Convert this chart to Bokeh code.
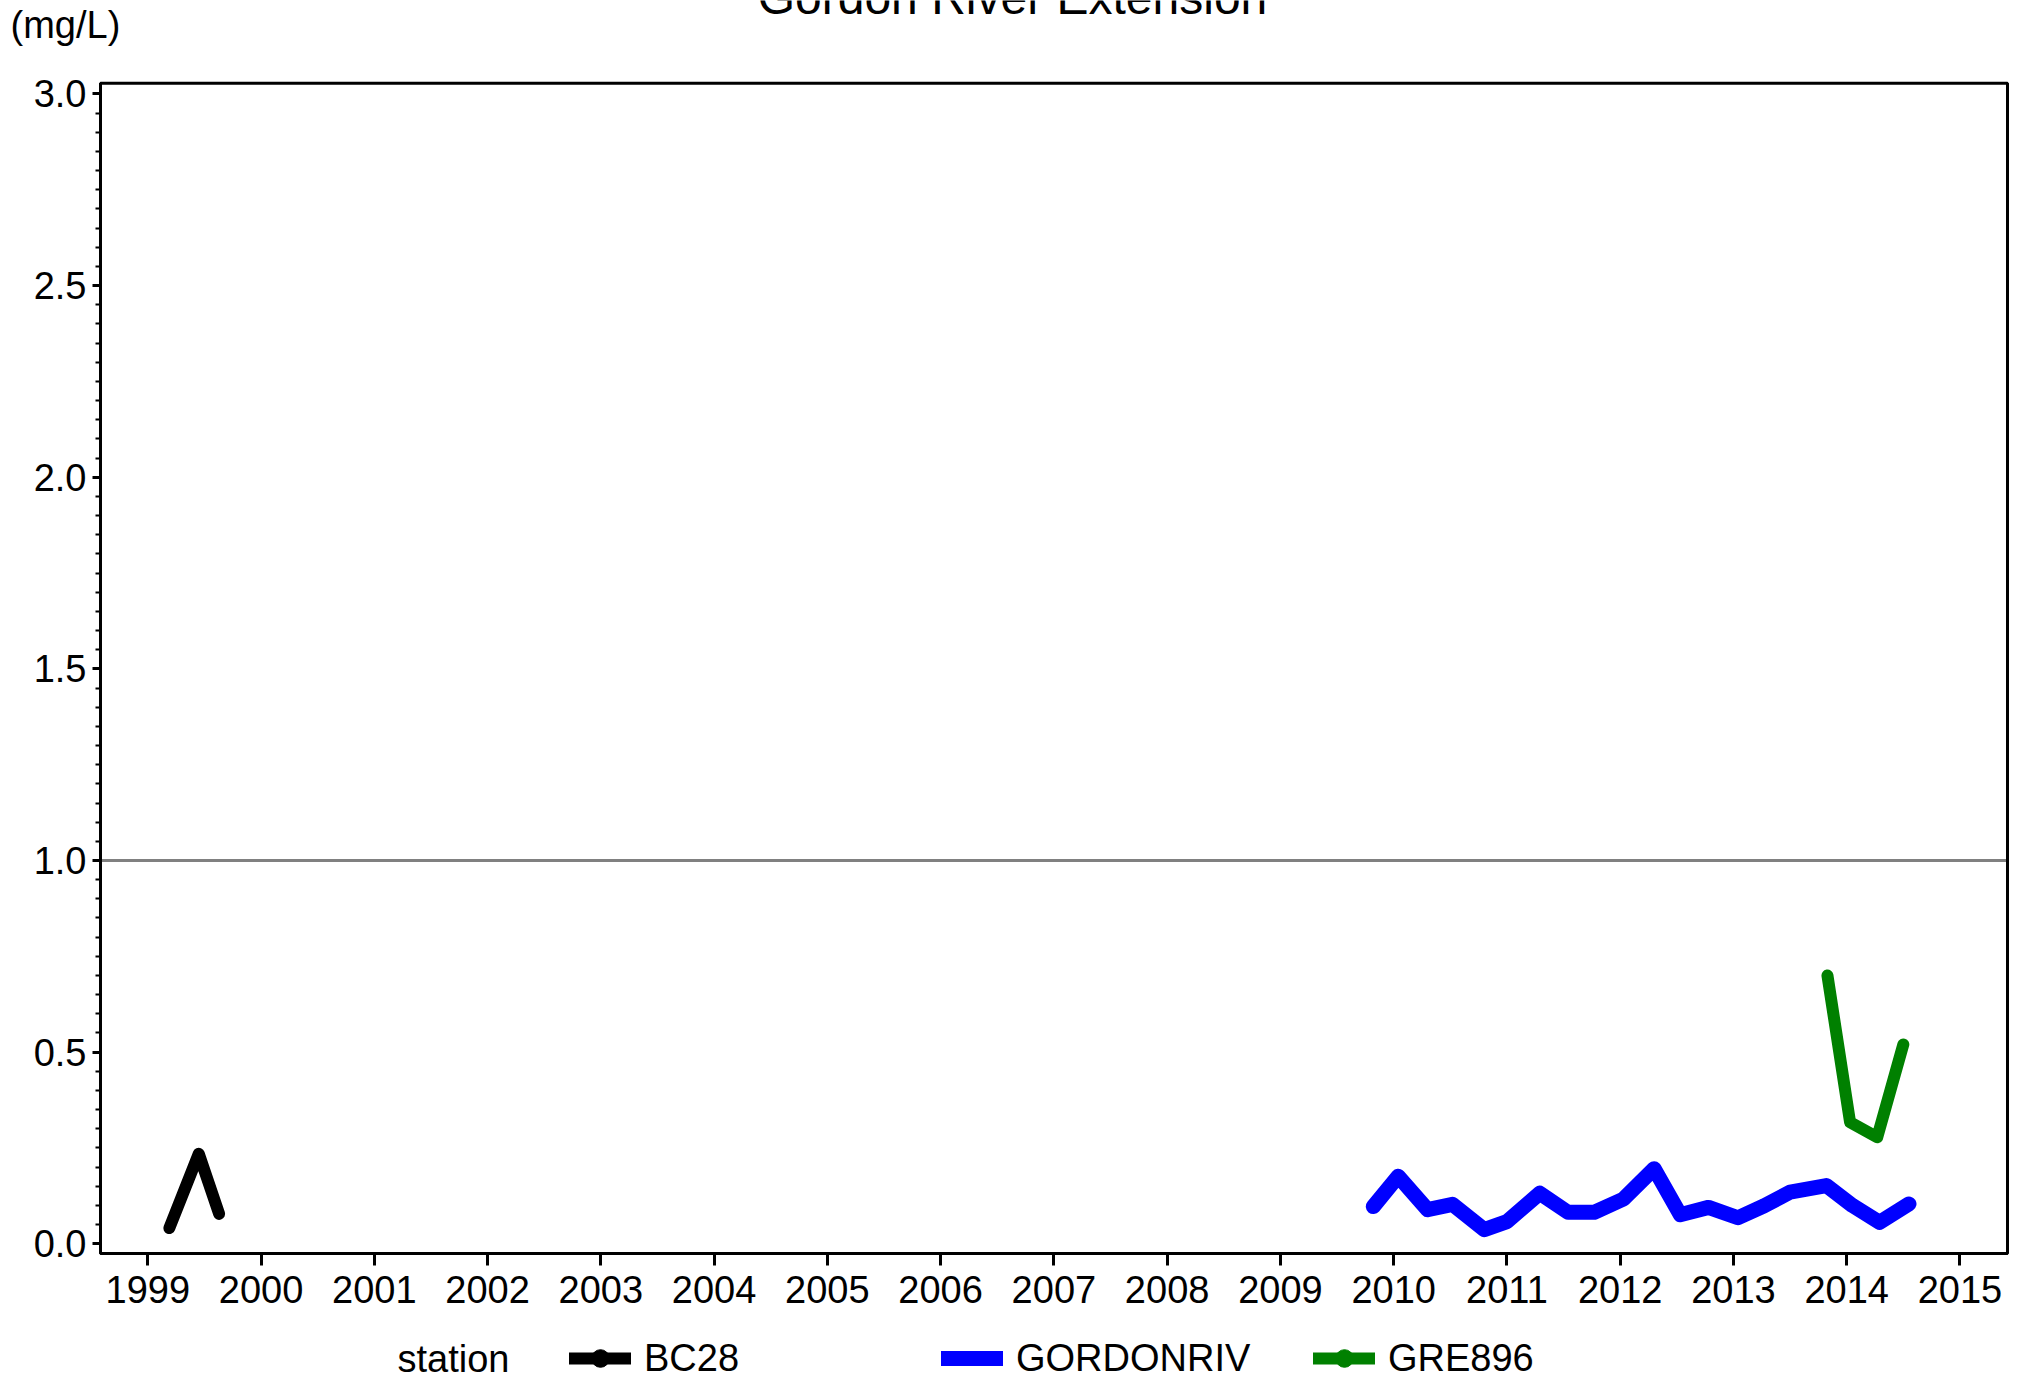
from bokeh.plotting import figure
from bokeh.models import (Range1d, FixedTicker, Label, Legend, LegendItem,
                          PrintfTickFormatter, BoxAnnotation)
from bokeh.embed import file_html
from bokeh.resources import INLINE

FONT = "Liberation Sans"

title_text = "Gordon River Extension"
unit_text = "(mg/L)"
legend_title = "station"

station_names = ["BC28", "GORDONRIV", "GRE896"]

bc28_year = [1999.19, 1999.45, 1999.63]
bc28_val = [0.041, 0.235, 0.078]

gordon_year = [2009.82, 2010.04, 2010.30, 2010.52, 2010.80, 2011.00, 2011.29,
               2011.54, 2011.77, 2012.03, 2012.30, 2012.53, 2012.78, 2013.04,
               2013.27, 2013.50, 2013.82, 2014.05, 2014.29, 2014.55]
gordon_val = [0.097, 0.176, 0.089, 0.103, 0.037, 0.058, 0.132,
              0.082, 0.082, 0.117, 0.196, 0.076, 0.095, 0.068,
              0.099, 0.135, 0.152, 0.100, 0.056, 0.104]

gre_year = [2013.83, 2014.03, 2014.27, 2014.50]
gre_val = [0.700, 0.317, 0.278, 0.520]

x_ticks = list(range(1999, 2016))
y_ticks = [0.0, 0.5, 1.0, 1.5, 2.0, 2.5, 3.0]
y_minor = [round(i * 0.05, 2) for i in range(0, 61)]
ref_level = 1.0

# plot-area extent (data units) and whole-canvas ranges
X_LO, X_HI = 1998.5824, 2015.4197
Y_LO, Y_HI = -0.0253, 3.0279

W, H = 2028, 1381
p = figure(width=W, height=H,
           x_range=Range1d(1997.6995, 2015.6051),
           y_range=Range1d(-0.35925, 3.24368),
           min_border_left=0, min_border_right=0,
           min_border_top=0, min_border_bottom=0,
           output_backend="svg", toolbar_location=None)

p.xgrid.visible = False
p.ygrid.visible = False
p.outline_line_color = None
p.background_fill_color = "white"
p.border_fill_color = "white"

# axes, drawn at the plot-area edges
p.xaxis.fixed_location = Y_LO
p.yaxis.fixed_location = X_LO
p.xaxis.bounds = (X_LO, X_HI)
p.yaxis.bounds = (Y_LO, Y_HI)
p.xaxis.ticker = FixedTicker(ticks=x_ticks)
p.xaxis.formatter = PrintfTickFormatter(format="%d")
p.yaxis.ticker = FixedTicker(ticks=y_ticks, minor_ticks=y_minor)
p.yaxis.formatter = PrintfTickFormatter(format="%.1f")
for ax in (p.xaxis[0], p.yaxis[0]):
    ax.axis_line_width = 3
    ax.axis_line_color = "black"
    ax.major_tick_line_width = 3
    ax.major_tick_line_color = "black"
    ax.major_tick_in = 0
    ax.minor_tick_in = 0
    ax.minor_tick_line_width = 2
    ax.minor_tick_line_color = "black"
    ax.major_label_text_font = FONT
    ax.major_label_text_font_size = "38px"
    ax.major_label_text_color = "black"
p.xaxis.major_tick_out = 12
p.xaxis.minor_tick_out = 0
p.xaxis.major_label_standoff = 11
p.yaxis.major_tick_out = 8
p.yaxis.minor_tick_out = 5
p.yaxis.major_label_standoff = 6
p.yaxis.major_label_text_baseline = "alphabetic"

# plot-area box
p.add_layout(BoxAnnotation(left=X_LO, right=X_HI, bottom=Y_LO, top=Y_HI,
                           fill_color=None, fill_alpha=0,
                           line_color="black", line_width=3, line_alpha=1.0))

# reference line
p.segment(x0=[X_LO], x1=[X_HI], y0=[ref_level], y1=[ref_level],
          line_color="#808080", line_width=3)

# series
s_bc = p.scatter(bc28_year, bc28_val, size=2, color="black")
r_bc = p.line(bc28_year, bc28_val, line_color="black", line_width=12,
              line_cap="round", line_join="round")
r_go = p.line(gordon_year, gordon_val, line_color="#0000FF", line_width=15,
              line_cap="round", line_join="round")
s_gr = p.scatter(gre_year, gre_val, size=2, color="#008000")
r_gr = p.line(gre_year, gre_val, line_color="#008000", line_width=12,
              line_cap="round", line_join="round")

legend = Legend(items=[LegendItem(label=station_names[0], renderers=[r_bc, s_bc]),
                       LegendItem(label=station_names[1], renderers=[r_go]),
                       LegendItem(label=station_names[2], renderers=[r_gr, s_gr])],
                location=(569, 1), orientation="horizontal",
                glyph_width=62, glyph_height=44, label_height=44,
                label_standoff=13, label_width=297, spacing=0, padding=0,
                margin=0, border_line_color=None, background_fill_alpha=0,
                label_text_font=FONT, label_text_font_size="38px",
                label_text_color="black")
p.add_layout(legend, "center")

p.add_layout(Label(x=397, y=23, x_units="screen", y_units="screen",
                   text=legend_title, text_font=FONT, text_font_size="38px",
                   text_baseline="middle", text_align="left", text_color="black"))

p.add_layout(Label(x=1012, y=H + 3, x_units="screen", y_units="screen",
                   text=title_text, text_font=FONT, text_font_size="48px",
                   text_baseline="alphabetic", text_align="center", text_color="black"))

p.add_layout(Label(x=10, y=H - 24, x_units="screen", y_units="screen",
                   text=unit_text, text_font=FONT, text_font_size="38px",
                   text_baseline="alphabetic", text_align="left", text_color="black"))

open("out.html", "w").write(file_html(p, INLINE))
